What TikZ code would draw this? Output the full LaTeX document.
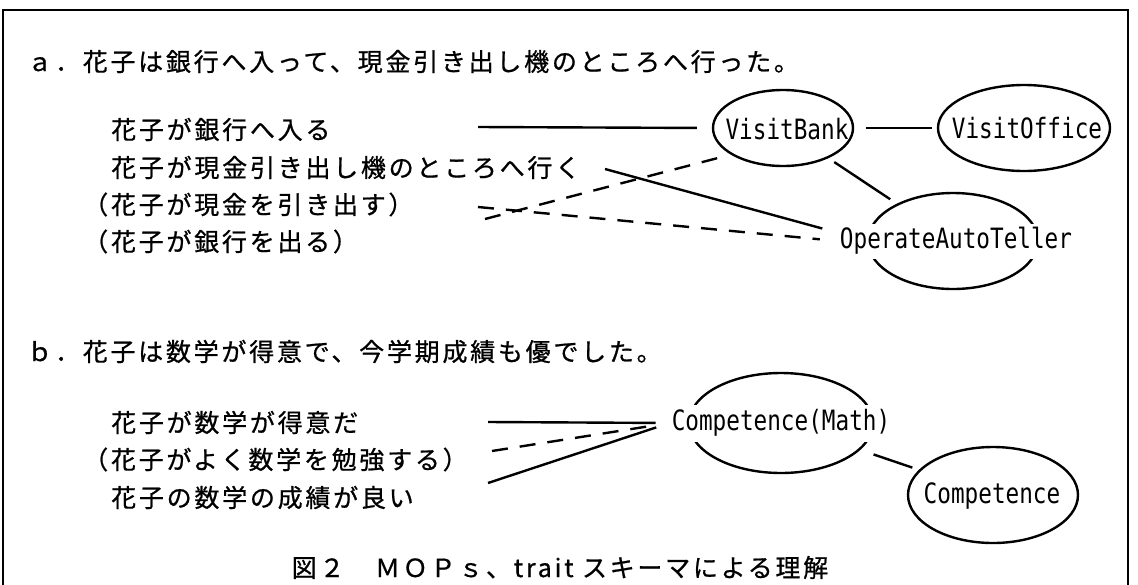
\documentclass[tikz,border=0pt]{standalone}
\usepackage{fontspec}
\newfontfamily\jpfont{Noto Sans CJK JP}[LetterSpace=11,FakeBold=0.8]
\newfontfamily\lblfont{DejaVu Sans Mono}[FakeStretch=0.81]
\usetikzlibrary{shapes.geometric}
\begin{document}
\begin{tikzpicture}[x=1pt,y=-1pt,
  jtext/.style={font=\jpfont\fontsize{25}{30}\selectfont, anchor=base west, inner sep=0pt},
  mop/.style={ellipse, draw, line width=2.4pt, inner sep=0pt},
  lbl/.style={font=\lblfont\fontsize{28}{30}\selectfont, inner sep=0pt},
  cover/.style={lbl, fill=white, inner xsep=2pt, inner ysep=0pt, text height=20pt, text depth=6pt},
  conn/.style={line width=2.4pt},
  dconn/.style={conn, dash pattern=on 16pt off 12pt},
  frame/.style={line width=2pt}]
\path[use as bounding box] (0,0) rectangle (1138,584);
\clip (0,0) rectangle (1138,584);
\draw[frame] (3,600) -- (3,10) -- (1128,10) -- (1128,600);

% part a
\node[jtext] (ta) at (27,71) {ａ．花子は銀行へ入って、現金引き出し機のところへ行った。};
\node[jtext] (a1) at (111,139) {花子が銀行へ入る};
\node[jtext] (a2) at (111,177) {花子が現金引き出し機のところへ行く};
\node[jtext] (a3) at (83,214) {（花子が現金を引き出す）};
\node[jtext] (a4) at (83,251) {（花子が銀行を出る）};

\node[mop, minimum width=140pt, minimum height=76pt] (vb) at (783,128) {};
\node[lbl] (vbl) at (787,129) {VisitBank};
\node[mop, minimum width=172pt, minimum height=86pt] (vo) at (1024,128) {};
\node[lbl] (vol) at (1027,128) {VisitOffice};
\node[mop, minimum width=170pt, minimum height=96pt] (oat) at (953,241) {};
\node[cover, minimum height=35pt] (oatl) at (956,241) {OperateAutoTeller};

\coordinate (s1) at (478,127);
\coordinate (s2) at (605,169);
\coordinate (s3) at (485,219);
\coordinate (s4) at (478,207);
\draw[conn, shorten >=15pt] (s1) -- (vb.west);
\draw[conn, shorten <=12pt, shorten >=5pt] (vb) -- (vo);
\draw[conn, shorten <=7pt, shorten >=8pt] (vb) -- (oat);
\draw[conn, shorten >=16pt] (s2) -- (oatl.176);
\draw[dconn, shorten >=8pt] (s3) -- (vb.207);
\draw[dconn, shorten >=18pt] (s4) -- (oatl.west);

% part b
\node[jtext] (tb) at (27,361) {ｂ．花子は数学が得意で、今学期成績も優でした。};
\node[jtext] (b1) at (111,432) {花子が数学が得意だ};
\node[jtext] (b2) at (83,469) {（花子がよく数学を勉強する）};
\node[jtext] (b3) at (111,507) {花子の数学の成績が良い};

\node[mop, minimum width=184pt, minimum height=100pt] (cm) at (781,423) {};
\node[cover, minimum height=37pt] (cml) at (cm.center) {Competence(Math)};
\node[mop, minimum width=170pt, minimum height=96pt] (comp) at (993,495) {};
\node[lbl] (compl) at (992,496) {Competence};

\coordinate (t1) at (488,422);
\coordinate (t2) at (492,451);
\coordinate (t3) at (488,483);
\draw[conn, shorten >=14pt] (t1) -- (cml.west);
\draw[dconn, shorten >=14pt] (t2) -- (cml.west);
\draw[conn, shorten >=14pt] (t3) -- (cml.west);
\draw[conn, shorten <=14pt, shorten >=7pt] (cm) -- (comp);

% caption
\node[jtext, anchor=base] (cap) at (560,577) {図２　ＭＯＰｓ、trait スキーマによる理解};
\end{tikzpicture}
\end{document}
